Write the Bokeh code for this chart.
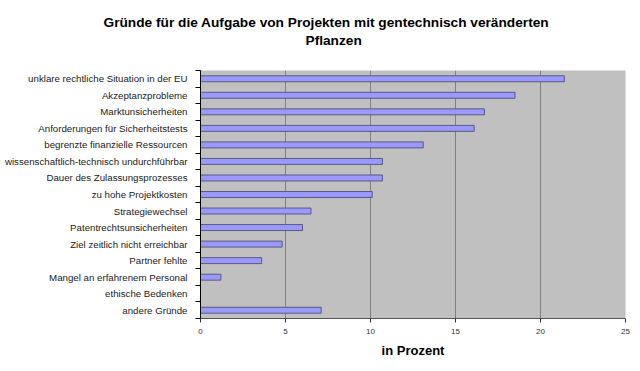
from bokeh.plotting import figure
from bokeh.models import Range1d, FixedTicker, Title
from bokeh.embed import file_html
from bokeh.resources import INLINE

categories = [
    "unklare rechtliche Situation in der EU",
    "Akzeptanzprobleme",
    "Marktunsicherheiten",
    "Anforderungen für Sicherheitstests",
    "begrenzte finanzielle Ressourcen",
    "wissenschaftlich-technisch undurchführbar",
    "Dauer des Zulassungsprozesses",
    "zu hohe Projektkosten",
    "Strategiewechsel",
    "Patentrechtsunsicherheiten",
    "Ziel zeitlich nicht erreichbar",
    "Partner fehlte",
    "Mangel an erfahrenem Personal",
    "ethische Bedenken",
    "andere Gründe",
]
values = [21.4, 18.5, 16.7, 16.1, 13.1, 10.7, 10.7, 10.1, 6.5, 6.0, 4.8, 3.6, 1.2, 0.0, 7.1]
x_ticks = [0, 5, 10, 15, 20, 25]
grid_ticks = [5, 10, 15, 20]
title_line1 = "Gründe für die Aufgabe von Projekten mit gentechnisch veränderten"
title_line2 = "Pflanzen"
x_label = "in Prozent"

n = len(categories)
ypos = [n - 0.5 - i for i in range(n)]

FONT = "Liberation Sans"

p = figure(width=640, height=371, output_backend="svg", toolbar_location=None,
           x_range=Range1d(0, 25), y_range=Range1d(0, n),
           min_border_left=200, min_border_right=15, min_border_top=70, min_border_bottom=53)
p.background_fill_color = "#C0C0C0"
p.border_fill_color = "white"
p.outline_line_color = None

p.hbar(y=ypos, left=0, right=values, height=0.36,
       fill_color="#9999FF", line_color="#5A5A80", line_width=1)

# grid
p.ygrid.visible = False
p.xgrid.ticker = FixedTicker(ticks=grid_ticks)
p.xgrid.grid_line_color = "#808080"
p.xgrid.grid_line_width = 1

# y axis
yax = p.yaxis[0]
yax.ticker = FixedTicker(ticks=ypos, minor_ticks=list(range(0, n + 1)))
yax.major_label_overrides = {y: c for y, c in zip(ypos, categories)}
yax.major_tick_line_color = None
yax.major_tick_in = 0
yax.major_tick_out = 0
yax.minor_tick_in = 0
yax.minor_tick_out = 5
yax.minor_tick_line_color = "black"
yax.axis_line_color = "black"
yax.major_label_standoff = 8
yax.major_label_text_font = FONT
yax.major_label_text_font_size = "9.7px"
yax.major_label_text_color = "#222222"

# x axis
xax = p.xaxis[0]
xax.ticker = FixedTicker(ticks=x_ticks)
xax.major_tick_in = 0
xax.major_tick_out = 4
xax.minor_tick_line_color = None
xax.axis_line_color = "#555555"
xax.major_tick_line_color = "#333333"
xax.major_label_text_font = FONT
xax.major_label_text_font_size = "8px"
xax.major_label_text_color = "#333333"
xax.major_label_standoff = 6
xax.axis_label = x_label
xax.axis_label_text_font = FONT
xax.axis_label_text_font_style = "bold"
xax.axis_label_text_font_size = "13px"
xax.axis_label_text_color = "black"
xax.axis_label_standoff = 6

# titles: first added sits nearest the frame
p.add_layout(Title(text=" ", text_font_size="14px", standoff=4), "above")
p.add_layout(Title(text=title_line2, align="left", offset=105, standoff=2,
                   text_font=FONT, text_font_style="bold", text_font_size="13.7px",
                   text_color="black"), "above")
p.add_layout(Title(text=title_line1, align="left", offset=-97, standoff=0,
                   text_font=FONT, text_font_style="bold", text_font_size="13.7px",
                   text_color="black"), "above")

open("out.html", "w").write(file_html(p, INLINE))
